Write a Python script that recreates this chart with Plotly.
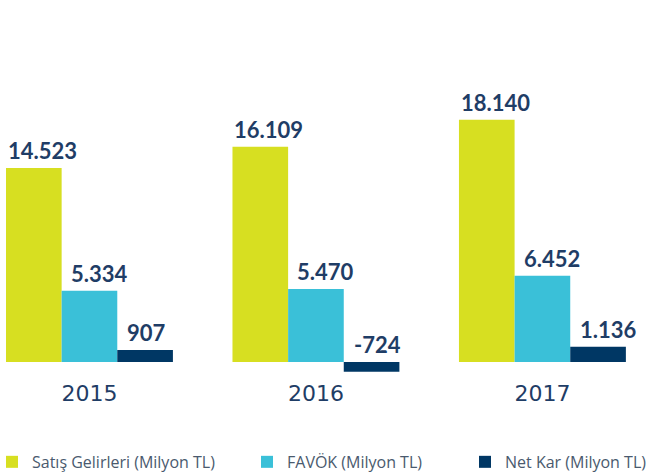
import plotly.graph_objects as go

years = ["2015", "2016", "2017"]
satis = [14523, 16109, 18140]
favok = [5334, 5470, 6452]
netkar = [907, -724, 1136]
labels_satis = ["14.523", "16.109", "18.140"]
labels_favok = ["5.334", "5.470", "6.452"]
labels_net = ["907", "-724", "1.136"]

series = [
    ("Satış Gelirleri (Milyon TL)", satis, labels_satis, "#d7df21", "legend", 0),
    ("FAVÖK (Milyon TL)", favok, labels_favok, "#3ac0d8", "legend2", 7),
    ("Net Kar (Milyon TL)", netkar, labels_net, "#003764", "legend3", 8),
]

fig = go.Figure()
bar_px = 55.7
annotations = []
for j, (name, vals, labs, col, leg, pad) in enumerate(series):
    fig.add_trace(go.Bar(x=years, y=vals, name=name, marker_color=col,
                         marker_line_width=0, legend=leg))
    for i, (v, lab) in enumerate(zip(vals, labs)):
        annotations.append(dict(
            x=i, y=max(v, 0), xref="x", yref="y",
            text=lab, showarrow=False, yanchor="bottom", xanchor="left",
            xshift=(j - 1.5) * bar_px + pad, yshift=2,
            font=dict(family="Lato", size=22, color="#1f3d66", weight="bold"),
        ))

legfont = dict(family="Open Sans", size=16, color="#4a5a6e")
def leg(xpx):
    return dict(x=xpx / 650, xanchor="left", y=-0.222, yanchor="top",
                orientation="h", font=legfont, bgcolor="rgba(0,0,0,0)")

fig.update_layout(
    width=650, height=472,
    margin=dict(l=0, r=0, t=60, b=97, autoexpand=False),
    paper_bgcolor="white", plot_bgcolor="white",
    barmode="group", bargap=0.263, bargroupgap=0,
    xaxis=dict(type="category", range=[-0.395, 2.475], showgrid=False,
               zeroline=False, showline=False, ticks="", ticklabelstandoff=3,
               tickfont=dict(family="DejaVu Sans", size=22, color="#1f3d66")),
    yaxis=dict(range=[-973, 22605], visible=False, showgrid=False, zeroline=False),
    legend=leg(-8),
    legend2=leg(247),
    legend3=leg(465),
    annotations=annotations,
    showlegend=True,
)

fig.write_html("out.html", config={"displayModeBar": False},
               post_script="document.body.style.margin='0';")
